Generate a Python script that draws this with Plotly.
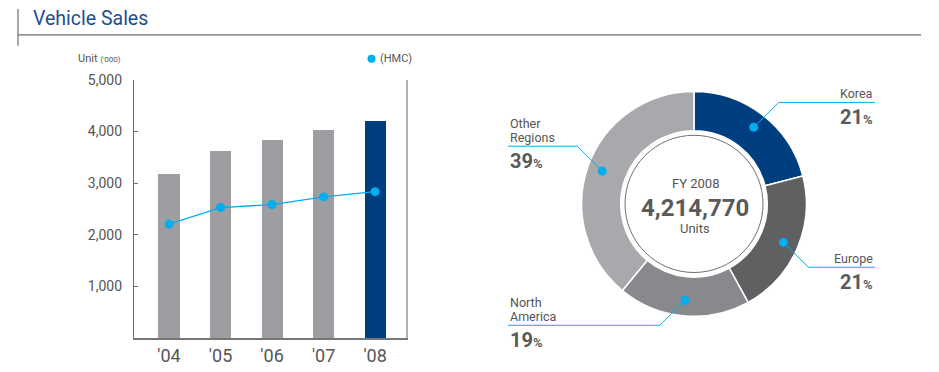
import math
import plotly.graph_objects as go

W, H = 939, 372

# ---------------- data ----------------
years = ["'04", "'05", "'06", "'07", "'08"]
total_sales = [3180, 3620, 3840, 4025, 4215]      # '000 units
hmc_sales = [2206, 2526, 2583, 2731, 2833]        # '000 units
y_ticks = [1000, 2000, 3000, 4000, 5000]
y_tick_labels = ["1,000", "2,000", "3,000", "4,000", "5,000"]

regions = ["Korea", "Europe", "North America", "Other Regions"]
region_labels = [["Korea"], ["Europe"], ["North", "America"], ["Other", "Regions"]]
region_share = [21, 21, 19, 39]
total_units_2008 = "4,214,770"

# ---------------- styles ----------------
NAVY = "#003f7f"
BAR_GRAY = "#9d9ea2"
CYAN = "#00aeef"
TXT = "#555555"
FONT = "Roboto"
slice_colors = [NAVY, "#5f6062", "#88898c", "#a8a9ac"]

# the captured picture maps layout row y to 6 + 0.984*y; compensate
Y_OFF, Y_SCALE = 6.0, 0.984


def px(x):
    return x / W


def py(y):
    yd = (y - Y_OFF) / Y_SCALE
    return 1 - yd / H


fig = go.Figure()

bar_colors = [BAR_GRAY] * (len(years) - 1) + [NAVY]
fig.add_trace(go.Bar(
    x=list(range(len(years))), y=total_sales, marker_color=bar_colors,
    marker_line_width=0, width=0.41, showlegend=False,
    xaxis="x", yaxis="y"))
fig.add_trace(go.Scatter(
    x=list(range(len(years))), y=hmc_sales, mode="lines+markers",
    line=dict(color=CYAN, width=1.3), marker=dict(color=CYAN, size=9),
    showlegend=False, xaxis="x", yaxis="y"))

# donut
cx, cy, R = 694, 203, 113
fig.add_trace(go.Pie(
    labels=regions, values=region_share, sort=False, direction="clockwise",
    rotation=0, hole=0.652, textinfo="none", hoverinfo="label+percent",
    marker=dict(colors=slice_colors, line=dict(color="white", width=1.5)),
    domain=dict(x=[px(cx - R), px(cx + R)], y=[py(cy + R), py(cy - R)]),
    showlegend=False))

x_dom = [px(134), px(406)]
y_dom = [py(338), py(78)]

fig.update_layout(
    width=W, height=H, autosize=False, margin=dict(l=0, r=0, t=0, b=0, pad=0),
    paper_bgcolor="white", plot_bgcolor="white",
    font=dict(family=FONT, color=TXT),
    xaxis=dict(domain=x_dom, range=[-0.68, 4.6], tickmode="array",
               tickvals=list(range(len(years))), ticktext=years,
               tickfont=dict(size=18, color=TXT), showgrid=False,
               zeroline=False, showline=True, linecolor="#777777",
               linewidth=1.5, ticks="", ticklabelstandoff=1),
    yaxis=dict(domain=y_dom, range=[0, 5000], tickmode="array",
               tickvals=y_ticks, ticktext=y_tick_labels,
               tickfont=dict(size=14, color=TXT), showgrid=False,
               zeroline=False, showline=True, linecolor="#6b6b6b",
               linewidth=1.2, ticks="inside", ticklen=4, tickcolor="#6b6b6b",
               tickwidth=1, ticklabelstandoff=8),
    yaxis2=dict(domain=y_dom, range=[0, 5000], overlaying="y", side="right",
                anchor="x", tickmode="array", tickvals=[5000], ticktext=[""],
                showgrid=False, zeroline=False, showline=True,
                linecolor="#b0b0b0", linewidth=1.5, ticks="inside",
                ticklen=4, tickcolor="#b0b0b0"),
    bargap=0,
)
fig.add_trace(go.Scatter(x=[None], y=[None], xaxis="x", yaxis="y2",
                         showlegend=False, hoverinfo="skip"))

shapes = []
ann = []

# header
shapes.append(dict(type="line", xref="paper", yref="paper",
                   x0=px(18), x1=px(18), y0=py(7), y1=py(44),
                   line=dict(color="#6d6d6d", width=1.2)))
shapes.append(dict(type="line", xref="paper", yref="paper",
                   x0=px(18), x1=px(921), y0=py(33), y1=py(33),
                   line=dict(color="#6d6d6d", width=1.2)))
ann.append(dict(text="Vehicle Sales", xref="paper", yref="paper",
                x=px(31), y=py(17), xanchor="left", yanchor="middle",
                showarrow=False, font=dict(size=19.5, color="#1d4e8f", family=FONT)))

ann.append(dict(text="Unit <span style='font-size:8px'>('000)</span>", xref="paper", yref="paper",
                x=px(123), y=py(57), xanchor="right", yanchor="middle",
                showarrow=False, font=dict(size=11, color=TXT)))
ann.append(dict(text="(HMC)", xref="paper", yref="paper",
                x=px(378), y=py(57), xanchor="left", yanchor="middle",
                showarrow=False, font=dict(size=11, color=TXT)))
shapes.append(dict(type="circle", xref="paper", yref="paper",
                   x0=px(367.5), x1=px(375.5), y0=py(61), y1=py(53),
                   fillcolor=CYAN, line=dict(width=0)))

# thin inner circle
r_in = 69
shapes.append(dict(type="circle", xref="paper", yref="paper",
                   x0=px(cx - r_in), x1=px(cx + r_in), y0=py(cy + r_in), y1=py(cy - r_in),
                   line=dict(color="#707070", width=1)))

ann.append(dict(text="FY 2008", xref="paper", yref="paper", x=px(cx + 1), y=py(182),
                xanchor="center", yanchor="middle",
                showarrow=False, font=dict(size=13, color=TXT)))
ann.append(dict(text="<b>" + total_units_2008 + "</b>", xref="paper", yref="paper",
                x=px(cx + 1), y=py(207), xanchor="center", yanchor="middle",
                showarrow=False, font=dict(size=24, color="#5a5a5a")))
ann.append(dict(text="Units", xref="paper", yref="paper", x=px(cx + 1), y=py(228),
                xanchor="center", yanchor="middle",
                showarrow=False, font=dict(size=13, color=TXT)))

# leader lines and labels from slice mid angles
r_dot = 97.5
cum = 0
total = sum(region_share)
label_edge = {"right": 875, "left": 508}
for name, lab_lines, share in zip(regions, region_labels, region_share):
    mid = (cum + share / 2) / total * 2 * math.pi
    cum += share
    dx, dy = math.sin(mid), -math.cos(mid)
    dxp, dyp = cx + r_dot * dx, cy + r_dot * dy
    sx = 1 if dx >= 0 else -1
    sy = 1 if dy >= 0 else -1
    bx, by = dxp + sx * 25, dyp + sy * 25
    ex = label_edge["right"] if sx > 0 else label_edge["left"]
    shapes.append(dict(type="path", xref="paper", yref="paper",
                       path=f"M {px(dxp)},{py(dyp)} L {px(bx)},{py(by)} L {px(ex)},{py(by)}",
                       line=dict(color=CYAN, width=1)))
    shapes.append(dict(type="circle", xref="paper", yref="paper",
                       x0=px(dxp - 4.5), x1=px(dxp + 4.5), y0=py(dyp + 4.5), y1=py(dyp - 4.5),
                       fillcolor=CYAN, line=dict(width=0)))
    anchor = "right" if sx > 0 else "left"
    n = len(lab_lines)
    for i, line_txt in enumerate(lab_lines):
        ly = by - 8.5 - (n - 1 - i) * 14.5
        ann.append(dict(text=line_txt, xref="paper", yref="paper", x=px(ex), y=py(ly),
                        xanchor=anchor, yanchor="middle", showarrow=False,
                        font=dict(size=12.5, color=TXT)))
    ann.append(dict(text=f"<b>{share}</b><span style='font-size:13px'><b>%</b></span>",
                    xref="paper", yref="paper", x=px(ex), y=py(by + 15),
                    xanchor=anchor, yanchor="middle", showarrow=False,
                    font=dict(size=20, color="#5a5a5a")))

fig.update_layout(shapes=shapes, annotations=ann)
fig.write_html(
    "out.html",
    config={"displayModeBar": False, "responsive": False},
    post_script=(
        "document.documentElement.style.margin='0';"
        "document.body.style.margin='0';"
        "document.body.style.overflow='hidden';"
        "var gd=document.getElementsByClassName('plotly-graph-div')[0];"
        "gd.style.position='absolute';gd.style.top='0px';gd.style.left='0px';"
    ),
)
